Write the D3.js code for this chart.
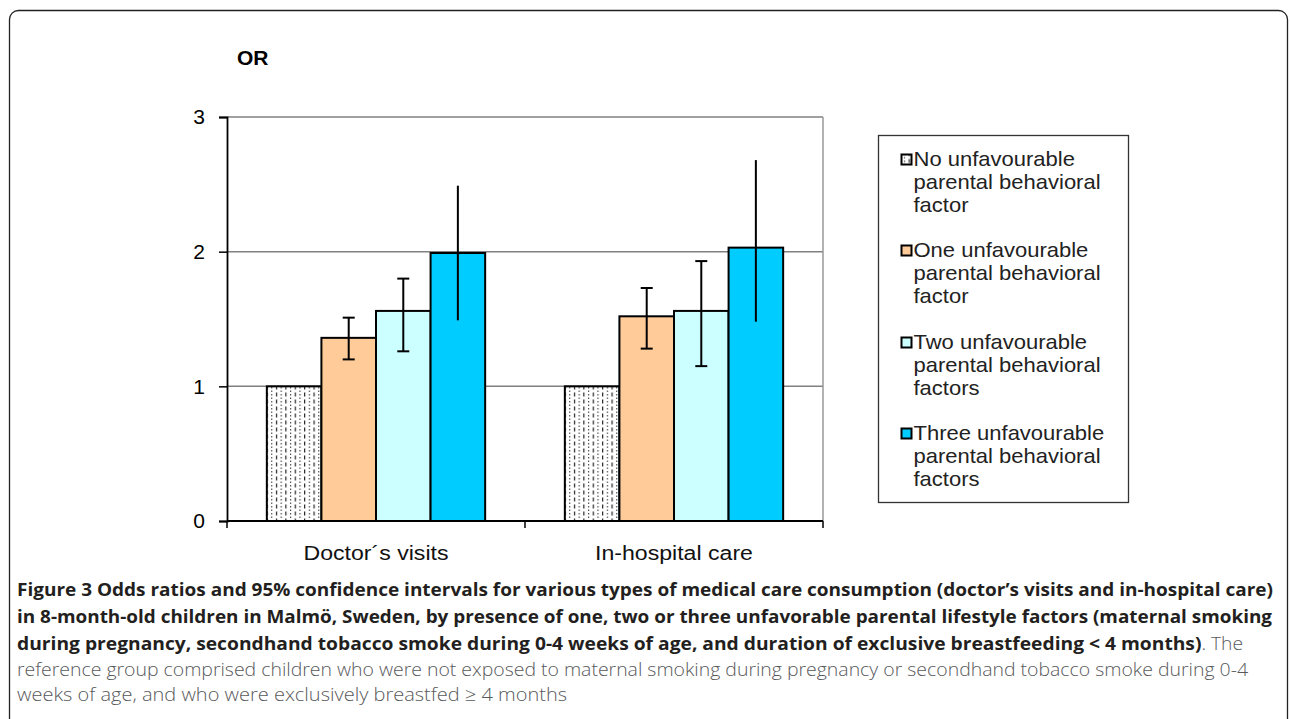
<!DOCTYPE html>
<html>
<head>
<meta charset="utf-8">
<script src="https://cdn.jsdelivr.net/npm/d3@7"></script>
<style>
  body { margin: 0; background: #fff; }
  svg { display: block; }
</style>
</head>
<body>
<div id="chart"></div>
<script>
// data
const categories = ["Doctor´s visits", "In-hospital care"];
const seriesNames = [
  ["No unfavourable", "parental behavioral", "factor"],
  ["One unfavourable", "parental behavioral", "factor"],
  ["Two unfavourable", "parental behavioral", "factors"],
  ["Three unfavourable", "parental behavioral", "factors"]
];
const orValues = [
  [1, 1.36, 1.56, 1.99],
  [1, 1.52, 1.56, 2.03]
];
const ciLow = [
  [1, 1.20, 1.26, 1.49],
  [1, 1.28, 1.15, 1.48]
];
const ciHigh = [
  [1, 1.51, 1.80, 2.49],
  [1, 1.73, 1.93, 2.68]
];
const yTicks = [0, 1, 2, 3];
const fills = ["url(#hatch)", "#FFCC99", "#CCFFFF", "#00CCFF"];

const width = 1290;
const height = 719;
const chartFont = "Liberation Sans, Arial, sans-serif";

const svg = d3.select("#chart").append("svg")
  .attr("width", width)
  .attr("height", height);

// dashed/dotted pattern for the reference group
const defs = svg.append("defs");
const pat = defs.append("pattern")
  .attr("id", "hatch")
  .attr("patternUnits", "userSpaceOnUse")
  .attr("width", 9.4)
  .attr("height", 7);
pat.append("rect").attr("width", 9.4).attr("height", 7).attr("fill", "#fff");
pat.append("line")
  .attr("x1", 2.5).attr("x2", 2.5).attr("y1", 0.5).attr("y2", 4.5)
  .attr("stroke", "#111").attr("stroke-width", 1.1);
pat.append("line")
  .attr("x1", 7.2).attr("x2", 7.2).attr("y1", 2).attr("y2", 3.4)
  .attr("stroke", "#333").attr("stroke-width", 1);
pat.append("line")
  .attr("x1", 7.2).attr("x2", 7.2).attr("y1", 5.5).attr("y2", 6.9)
  .attr("stroke", "#333").attr("stroke-width", 1);

// outer frame
svg.append("rect")
  .attr("x", 9.5).attr("y", 10.5)
  .attr("width", 1278).attr("height", 730)
  .attr("rx", 9)
  .attr("fill", "none")
  .attr("stroke", "#222")
  .attr("stroke-width", 1.3);

const plotLeft = 227, plotRight = 823, plotTop = 117, plotBottom = 521;

const x0 = d3.scaleBand().domain(categories).range([plotLeft, plotRight]);
const x1 = d3.scaleBand().domain(d3.range(4)).range([0, x0.bandwidth()]).paddingOuter(0.73);
const y = d3.scaleLinear().domain([0, 3]).range([plotBottom, plotTop]);

// gridlines
svg.append("g").selectAll("line")
  .data(yTicks.filter(d => d > 0))
  .enter().append("line")
  .attr("x1", plotLeft).attr("x2", plotRight)
  .attr("y1", d => y(d)).attr("y2", d => y(d))
  .attr("stroke", "#808080").attr("stroke-width", 1.5);

// right border of plot area
svg.append("line")
  .attr("x1", plotRight).attr("x2", plotRight)
  .attr("y1", plotTop).attr("y2", plotBottom)
  .attr("stroke", "#999").attr("stroke-width", 1.5);

// bars
const groups = svg.append("g").selectAll("g")
  .data(categories)
  .enter().append("g")
  .attr("transform", d => `translate(${x0(d)},0)`);

groups.selectAll("rect")
  .data((c, ci) => orValues[ci].map((v, i) => ({ v, i })))
  .enter().append("rect")
  .attr("x", d => x1(d.i))
  .attr("y", d => y(d.v))
  .attr("width", x1.bandwidth())
  .attr("height", d => y(0) - y(d.v))
  .attr("fill", d => fills[d.i])
  .attr("stroke", "#000")
  .attr("stroke-width", 2);

// error bars (not for reference group)
const err = groups.selectAll("g.err")
  .data((c, ci) => orValues[ci].map((v, i) => ({ i, lo: ciLow[ci][i], hi: ciHigh[ci][i] })).filter(d => d.i > 0))
  .enter().append("g").attr("class", "err");

err.append("line")
  .attr("x1", d => x1(d.i) + x1.bandwidth() / 2)
  .attr("x2", d => x1(d.i) + x1.bandwidth() / 2)
  .attr("y1", d => y(d.lo)).attr("y2", d => y(d.hi))
  .attr("stroke", "#000").attr("stroke-width", 2);

["lo", "hi"].forEach(k => {
  err.filter(d => d.i < 3).append("line")
    .attr("x1", d => x1(d.i) + x1.bandwidth() / 2 - 6)
    .attr("x2", d => x1(d.i) + x1.bandwidth() / 2 + 6)
    .attr("y1", d => y(d[k])).attr("y2", d => y(d[k]))
    .attr("stroke", "#000").attr("stroke-width", 2);
});

// y axis
const yAxis = svg.append("g")
  .attr("transform", `translate(${plotLeft},0)`)
  .call(d3.axisLeft(y).tickValues(yTicks).tickFormat(d3.format("d")).tickSize(8).tickPadding(14));
yAxis.select(".domain").attr("stroke", "#000").attr("stroke-width", 1.8);
yAxis.selectAll(".tick line").attr("stroke", "#000").attr("stroke-width", 1.5);
yAxis.selectAll(".tick text")
  .attr("font-family", chartFont)
  .attr("font-size", 21).attr("fill", "#000");

// x axis
const xAxisG = svg.append("g").attr("transform", `translate(0,${plotBottom})`);
xAxisG.append("line")
  .attr("x1", plotLeft).attr("x2", plotRight)
  .attr("y1", 0).attr("y2", 0)
  .attr("stroke", "#000").attr("stroke-width", 1.8);
xAxisG.selectAll("line.sep")
  .data([plotLeft, ...categories.map(c => x0(c) + x0.bandwidth())])
  .enter().append("line").attr("class", "sep")
  .attr("x1", d => d).attr("x2", d => d)
  .attr("y1", 0).attr("y2", 7)
  .attr("stroke", "#000").attr("stroke-width", 1.5);
xAxisG.selectAll("text")
  .data(categories)
  .enter().append("text")
  .attr("transform", d => `translate(${x0(d) + x0.bandwidth() / 2},39) scale(1.1,1)`)
  .attr("text-anchor", "middle")
  .attr("font-family", chartFont)
  .attr("font-size", 21)
  .attr("fill", "#111")
  .text(d => d);

// OR label
svg.append("text")
  .attr("x", 237).attr("y", 65)
  .attr("font-family", chartFont)
  .attr("font-size", 21).attr("font-weight", "bold")
  .text("OR");

// legend
const legend = svg.append("g").attr("transform", "translate(878.5,135.5)");
legend.append("rect")
  .attr("width", 250).attr("height", 367)
  .attr("fill", "#fff").attr("stroke", "#333").attr("stroke-width", 1.3);

const entryY = [30, 121, 213, 304];
seriesNames.forEach((lines, i) => {
  const e = legend.append("g").attr("transform", `translate(0,${entryY[i]})`);
  e.append("rect")
    .attr("x", 23).attr("y", -11)
    .attr("width", 10).attr("height", 10)
    .attr("fill", fills[i])
    .attr("stroke", "#000").attr("stroke-width", 2);
  const t = e.append("text")
    .attr("transform", "translate(35,0) scale(1.1,1)")
    .attr("font-family", chartFont)
    .attr("font-size", 20).attr("fill", "#222");
  lines.forEach((ln, j) => {
    t.append("tspan")
      .attr("x", 0).attr("y", j * 23.5)
      .text(ln);
  });
});

// caption
const capFont = "Open Sans, Noto Sans, sans-serif";
const capLines = [
  { y: 596, len: 1256, parts: [["Figure 3 Odds ratios and 95% confidence intervals for various types of medical care consumption (doctor’s visits and in-hospital care)", true]] },
  { y: 623, len: 1255, parts: [["in 8-month-old children in Malmö, Sweden, by presence of one, two or three unfavorable parental lifestyle factors (maternal smoking", true]] },
  { y: 650, len: 1226, parts: [["during pregnancy, secondhand tobacco smoke during 0-4 weeks of age, and duration of exclusive breastfeeding < 4 months)", true], [". The", false]] },
  { y: 676, len: 1231, parts: [["reference group comprised children who were not exposed to maternal smoking during pregnancy or secondhand tobacco smoke during 0-4", false]] },
  { y: 701, len: 550, parts: [["weeks of age, and who were exclusively breastfed ≥ 4 months", false]] }
];
capLines.forEach(l => {
  const t = svg.append("text")
    .attr("x", 17).attr("y", l.y)
    .attr("font-family", capFont)
    .attr("font-size", 18.5)
    .attr("textLength", l.len)
    .attr("lengthAdjust", "spacingAndGlyphs");
  l.parts.forEach(([s, b]) => {
    t.append("tspan")
      .attr("font-weight", b ? "bold" : 300)
      .attr("fill", b ? "#231f20" : "#58595b")
      .text(s);
  });
});
</script>
</body>
</html>
